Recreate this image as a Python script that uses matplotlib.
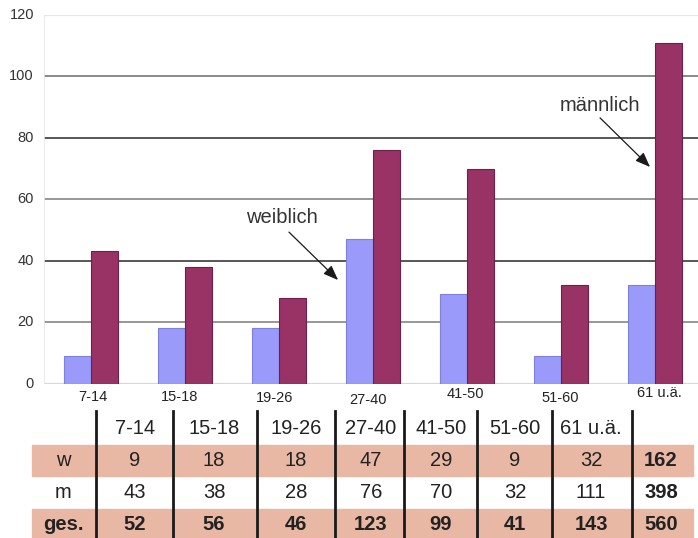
import matplotlib
matplotlib.use("Agg")
import matplotlib.pyplot as plt
from matplotlib.patches import Rectangle
from matplotlib.lines import Line2D
import numpy as np

plt.rcParams['font.family'] = ['Liberation Sans', 'DejaVu Sans']

# Age groups and counts
categories = ["7-14", "15-18", "19-26", "27-40", "41-50", "51-60", "61 u.ä."]
weiblich = [9, 18, 18, 47, 29, 9, 32]
maennlich = [43, 38, 28, 76, 70, 32, 111]
y_ticks = [0, 20, 40, 60, 80, 100, 120]
row_labels = ["w", "m", "ges."]

W, H = 698, 538
fig = plt.figure(figsize=(W / 100, H / 100), dpi=100)


def fx(px):
    return px / W


def fy(py):
    return 1 - py / H


# chart area
ax_left, ax_right, ax_top, ax_bottom = 44, 698, 15, 383.5
ax = fig.add_axes([fx(ax_left), fy(ax_bottom), fx(ax_right - ax_left), (ax_bottom - ax_top) / H])
ax.set_xlim(-0.5, 6.457)
ax.set_ylim(0, 120)
for s in ax.spines.values():
    s.set_visible(False)
ax.set_xticks([])
ax.set_yticks([])

grid_colors = {0: "#d8d8d8", 20: "#7a7a7a", 40: "#2a2a2a", 60: "#7a7a7a",
               80: "#2a2a2a", 100: "#6a6a6a", 120: "#e6e6e6"}
for t in y_ticks:
    ax.axhline(t, color=grid_colors[t], lw=1.1 if t not in (0, 120) else 1.6, zorder=1)
ax.axvline(-0.5, color="#e6e6e6", lw=1.2, zorder=1)

x = np.arange(len(categories))
bw = 0.29
ax.bar(x - bw / 2, weiblich, width=bw, color="#9a9afa", edgecolor="#8080d8",
       lw=0.8, zorder=2)
ax.bar(x + bw / 2, maennlich, width=bw, color="#993366", edgecolor="#6e2048",
       lw=0.8, zorder=2)

# y tick labels
for t in y_ticks:
    py = ax_bottom - t * (ax_bottom - ax_top) / 120
    fig.text(fx(34), fy(py), str(t), ha="right", va="center", fontsize=10.5,
             color="#333333")

# x tick labels (slightly staggered)
label_pos = [(93, 397), (180, 397), (275, 397.5), (368, 400), (465, 394),
             (560, 398), (659, 393)]
for lab, (px, py) in zip(categories, label_pos):
    fig.text(fx(px), fy(py), lab, ha="center", va="center", fontsize=10.5,
             color="#222222")

# arrows with labels
arrow = dict(arrowstyle="-|>,head_length=0.9,head_width=0.35", lw=0.9,
             color="#1a1a1a", shrinkA=0, shrinkB=0)
ax.annotate("", xy=(2.628, 33.7), xytext=(2.106, 49.3), arrowprops=arrow, zorder=4)
ax.text(2.032, 54.2, "weiblich", ha="center", va="center", fontsize=14.5,
        color="#333333", zorder=4)
ax.annotate("", xy=(5.947, 70.5), xytext=(5.415, 86.5), arrowprops=arrow, zorder=4)
ax.text(5.415, 90.6, "männlich", ha="center", va="center", fontsize=14.5,
        color="#333333", zorder=4)

# summary table below the chart
salmon = "#e8b8a5"
for top, bot in [(445, 476), (509, 540)]:
    fig.patches.append(Rectangle((fx(32), fy(bot)), fx(693 - 32), (bot - top) / H,
                                 transform=fig.transFigure, color=salmon, zorder=0))

col_x = [63, 135, 214, 296, 371, 441, 515, 591, 661]
row_y = {"head": 428, "w": 461, "m": 493, "ges.": 525}

gesamt = [a + b for a, b in zip(weiblich, maennlich)]
rows = {"w": weiblich + [sum(weiblich)],
        "m": maennlich + [sum(maennlich)],
        "ges.": gesamt + [sum(gesamt)]}

fs = 14.5
for lab, px in zip(categories, col_x[1:]):
    fig.text(fx(px), fy(row_y["head"]), lab, ha="center", va="center",
             fontsize=fs, color="#222222")
for rl in row_labels:
    bold = rl == "ges."
    fig.text(fx(col_x[0]), fy(row_y[rl]), rl, ha="center", va="center",
             fontsize=fs, color="#222222", fontweight="bold" if bold else "normal")
    vals = rows[rl]
    for i, v in enumerate(vals):
        b = bold or i == len(vals) - 1
        fig.text(fx(col_x[i + 1]), fy(row_y[rl]), str(v), ha="center", va="center",
                 fontsize=fs, color="#222222", fontweight="bold" if b else "normal")

for sx in [96, 173, 257, 335, 404, 477, 552, 632]:
    fig.lines.append(Line2D([fx(sx), fx(sx)], [fy(411), fy(540)],
                            transform=fig.transFigure, color="#1a1a1a", lw=2.0))

fig.savefig("out.png", dpi=100)
